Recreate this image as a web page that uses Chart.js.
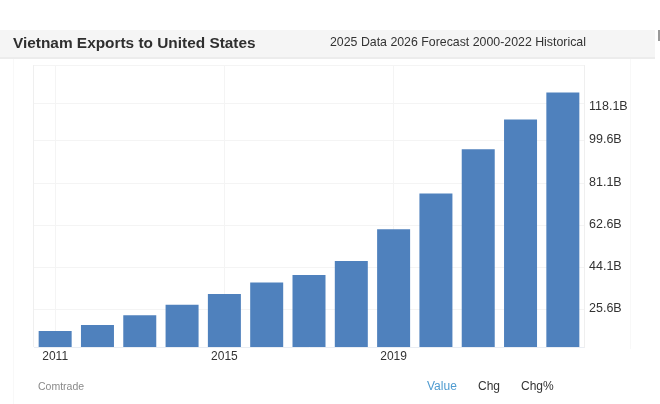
<!DOCTYPE html>
<html lang="en">
<head>
    <meta charset="UTF-8">
    <title>Vietnam Exports to United States</title>
    <style>
        html, body {
            margin: 0;
            padding: 0;
            width: 660px;
            height: 404px;
            overflow: hidden;
            background: #fff;
            font-family: "Liberation Sans", Arial, sans-serif;
        }
        canvas {
            position: absolute;
            left: 0;
            top: 0;
        }
        .header {
            position: absolute;
            left: 0;
            top: 30px;
            width: 655px;
            height: 27px;
            background: #f5f5f5;
            border-bottom: 2px solid #ececec;
        }
        .txt {
            position: absolute;
            white-space: nowrap;
        }
        .rule {
            position: absolute;
            width: 1px;
            top: 59px;
            height: 345px;
            background: #f8f8f8;
        }
    </style>
    <script src="https://cdn.jsdelivr.net/npm/chart.js"></script>
</head>
<body>
    <div class="header"></div>
    <div class="rule" style="left:13px"></div>
    <div class="rule" style="left:630px;height:290px"></div>
    <div class="txt" style="left:658px;top:30px;width:2px;height:11px;background:#999"></div>
    <canvas id="grafico" width="660" height="404"></canvas>
    <div class="txt" style="left:13px;top:34px;font-size:15.4px;font-weight:bold;color:#2f2f2f">Vietnam Exports to United States</div>
    <div class="txt" style="left:330px;top:35px;font-size:12.35px;color:#333">2025 Data 2026 Forecast 2000-2022 Historical</div>
    <div class="txt" style="left:38px;top:380px;font-size:10.5px;color:#8a8a8a">Comtrade</div>
    <div class="txt" style="left:427px;top:379px;font-size:12px;color:#4f9bd0">Value</div>
    <div class="txt" style="left:478px;top:379px;font-size:12px;color:#333">Chg</div>
    <div class="txt" style="left:521px;top:379px;font-size:12px;color:#333">Chg%</div>

    <script>
        const years = ["2011", "2012", "2013", "2014", "2015", "2016", "2017", "2018", "2019", "2020", "2021", "2022", "2023"];
        const exportsBn = [16.4, 19.0, 23.3, 27.9, 32.6, 37.6, 40.9, 47.0, 60.9, 76.6, 95.9, 109.0, 120.8];
        const xTickLabels = ["2011", "2015", "2019"];
        // the top label sits off the regular step in the picture, so labels and grid lines are separate
        const yLabelValues = [25.6, 44.1, 62.6, 81.1, 99.6, 114.4];
        const yLabels = ["25.6B", "44.1B", "62.6B", "81.1B", "99.6B", "118.1B"];
        const yGridValues = [25.6, 44.1, 62.6, 81.1, 99.6, 115.9, 132.8];
        const yMin = 9.41;
        const yMax = 132.8;

        const gridColor = "#f4f4f4";

        const frame = {
            id: "frame",
            beforeDatasetsDraw(chart) {
                const a = chart.chartArea;
                const c = chart.ctx;
                c.save();
                c.strokeStyle = "#efefef";
                c.beginPath();
                c.moveTo(Math.round(a.left) - 0.5, a.top);
                c.lineTo(Math.round(a.left) - 0.5, a.bottom);
                c.stroke();
                c.restore();
            }
        };

        new Chart(document.getElementById("grafico").getContext("2d"), {
            type: "bar",
            data: {
                labels: years,
                datasets: [{
                    data: exportsBn,
                    backgroundColor: "#4f81bd",
                    categoryPercentage: 1,
                    barPercentage: 0.78
                }]
            },
            plugins: [frame],
            options: {
                responsive: false,
                animation: false,
                layout: { padding: { left: 34, top: 65 } },
                plugins: {
                    legend: { display: false },
                    tooltip: { enabled: false }
                },
                scales: {
                    x: {
                        afterFit(axis) { axis.height = 57; },
                        grid: {
                            offset: false,
                            drawTicks: false,
                            color: ctx => ctx.tick && xTickLabels.includes(years[ctx.tick.value]) ? gridColor : "transparent"
                        },
                        border: { color: "#e9edf3" },
                        ticks: {
                            autoSkip: false,
                            maxRotation: 0,
                            padding: 2,
                            color: "#333",
                            font: { family: "Liberation Sans", size: 12 },
                            callback(value) {
                                return xTickLabels.includes(years[value]) ? years[value] : "";
                            }
                        }
                    },
                    y: {
                        position: "right",
                        min: yMin,
                        max: yMax,
                        afterFit(axis) { axis.width = 76; },
                        afterBuildTicks(axis) {
                            axis.ticks = [...yLabelValues, ...yGridValues]
                                .sort((a, b) => a - b)
                                .map(v => ({ value: v }));
                        },
                        grid: {
                            drawTicks: false,
                            color: ctx => ctx.tick && yGridValues.includes(ctx.tick.value) ? gridColor : "transparent"
                        },
                        border: { color: "#efefef" },
                        ticks: {
                            autoSkip: false,
                            padding: 5,
                            labelOffset: -1,
                            color: "#333",
                            font: { family: "Liberation Sans", size: 12.5 },
                            callback(value, index, ticks) {
                                // each value appears twice when it is both label and grid line
                                if (index > 0 && ticks[index - 1].value === value) return "";
                                const i = yLabelValues.indexOf(value);
                                return i >= 0 ? yLabels[i] : "";
                            }
                        }
                    }
                }
            }
        });
    </script>
</body>
</html>
